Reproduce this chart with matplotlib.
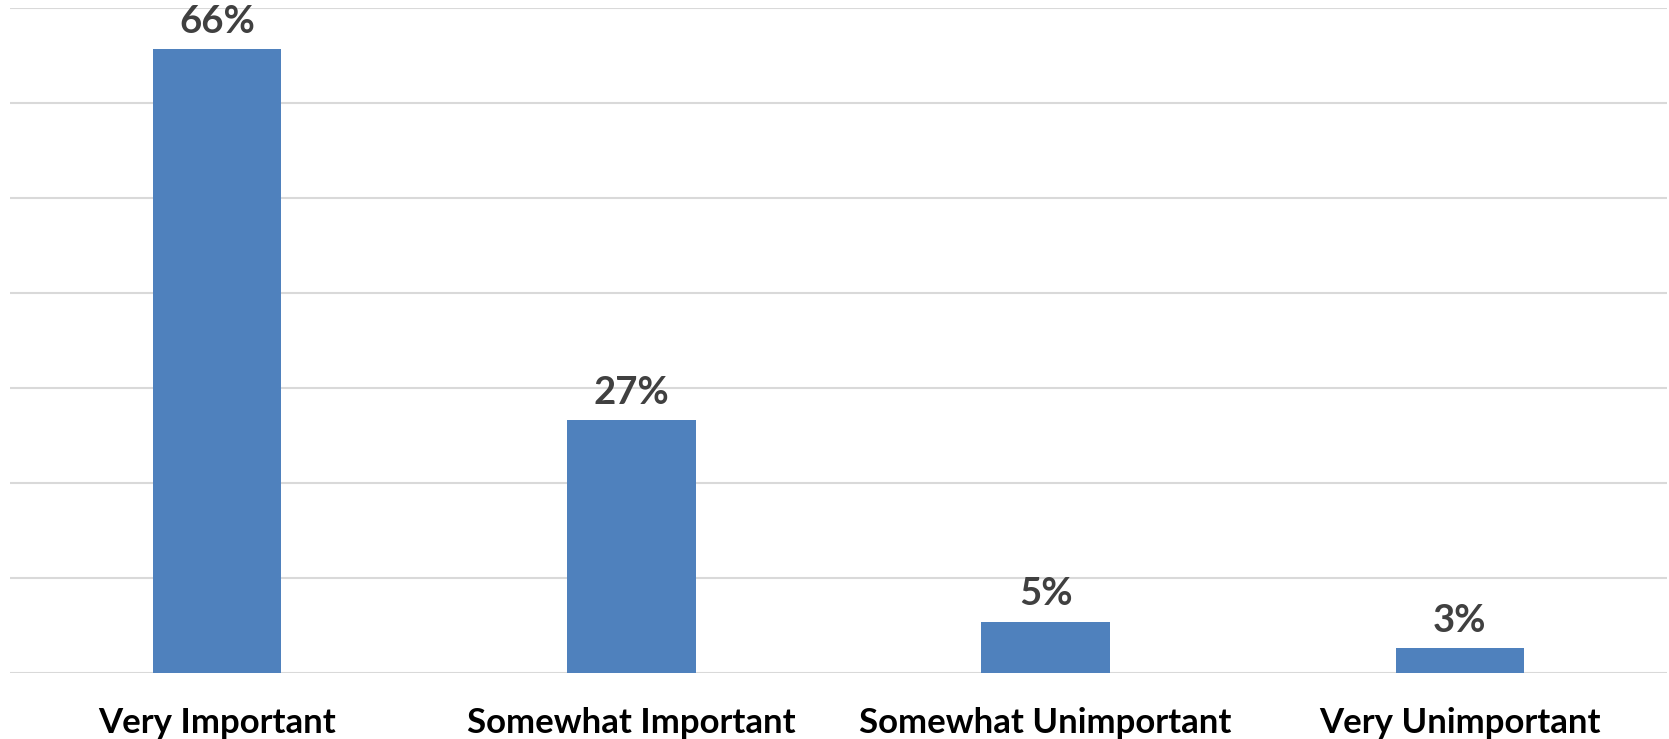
import matplotlib.pyplot as plt
import numpy as np

categories = ['Very Important', 'Somewhat Important', 'Somewhat Unimportant', 'Very Unimportant']
values = [65.6, 26.6, 5.4, 2.6]

plt.rcParams['font.family'] = ['Lato', 'DejaVu Sans']

W, H = 1669, 739
fig = plt.figure(figsize=(W / 100, H / 100), dpi=100)
ax = fig.add_axes([10 / W, (H - 673) / H, 1657 / W, 665.5 / H])

x = np.arange(len(categories))
bars = ax.bar(x, values, width=0.31, color='#4f81bd', zorder=3)

ax.set_xlim(-0.5, 3.5)
ax.set_ylim(0, 70)
ax.set_yticks(np.arange(0, 71, 10))
ax.yaxis.grid(True, color='#d9d9d9', lw=1.5, zorder=0)
ax.tick_params(left=False, labelleft=False, bottom=False)
for s in ax.spines.values():
    s.set_visible(False)

ax.set_xticks(x)
ax.set_xticklabels(categories, fontsize=25, fontweight='bold', color='black')
ax.tick_params(axis='x', pad=21)

for b, v in zip(bars, values):
    ax.annotate(f'{v:.0f}%', (b.get_x() + b.get_width() / 2, v),
                xytext=(0, 7.5), textcoords='offset points',
                ha='center', va='bottom', fontsize=27.5, fontweight='bold', color='#404040')

fig.savefig('out.png', dpi=100)
